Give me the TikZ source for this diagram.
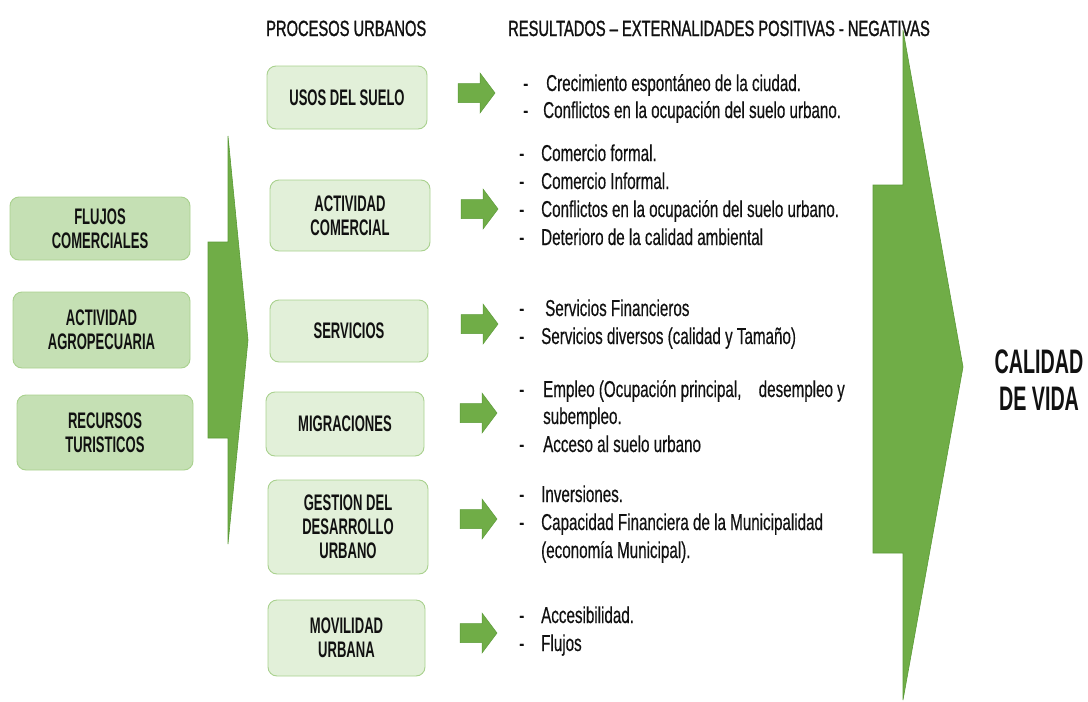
\documentclass[tikz,border=0pt]{standalone}
\usepackage{fontspec}
\setmainfont{Liberation Sans}[FakeStretch=0.66]
\newfontfamily\boxfont{Liberation Sans}[FakeStretch=0.58]
\newfontfamily\headfont{Liberation Sans}[FakeStretch=0.668,FakeBold=1.2]
\newfontfamily\itemfont{Liberation Sans}[FakeStretch=0.66,FakeBold=0.4]
\definecolor{leftfill}{HTML}{C5E0B4}
\definecolor{midfill}{HTML}{E2F0D9}
\definecolor{boxedge}{HTML}{A9D18E}
\definecolor{arrowgreen}{HTML}{70AD47}
\definecolor{arrowedge}{HTML}{5A9A36}
\definecolor{txt}{HTML}{111111}
\newcommand\boxtxt{\boxfont\bfseries\fontsize{22.5}{24}\selectfont}
\newcommand\listtxt{\itemfont\fontsize{23}{28}\selectfont}
\newcommand\headtxt{\headfont\fontsize{22}{26}\selectfont}
\newcommand\bigtxt{\boxfont\bfseries\fontsize{34}{37}\selectfont}
\begin{document}
\begin{tikzpicture}[x=1pt,y=-1pt,
  leftbox/.style={draw=boxedge, fill=leftfill, rounded corners=9pt, line width=0.9pt,
    align=center, inner sep=0pt, font=\boxtxt, text=txt},
  midbox/.style={leftbox, fill=midfill},
  smallarrow/.style={fill=arrowgreen, draw=arrowedge, line width=0.5pt, line join=miter},
  bigarrow/.style={fill=arrowgreen, draw=arrowedge, line width=0.6pt},
  item/.style={anchor=base west, inner sep=0pt, font=\listtxt, text=txt},
  head/.style={anchor=base west, inner sep=0pt, font=\headtxt, text=txt}]
\useasboundingbox (0,0) rectangle (1088,702);

% headers
\node[head] (h1) at (266,36) {PROCESOS URBANOS};
\node[head] (h2) at (508,36) {RESULTADOS – EXTERNALIDADES POSITIVAS - NEGATIVAS};

% left boxes
\node[leftbox, minimum width=180pt, minimum height=63pt] (fc) at (100,228.5) {FLUJOS\\COMERCIALES};
\node[leftbox, minimum width=177pt, minimum height=76pt] (aa) at (101.5,330) {ACTIVIDAD\\AGROPECUARIA};
\node[leftbox, minimum width=176pt, minimum height=75pt] (rt) at (105,432.5) {RECURSOS\\TURISTICOS};

% left big arrow
\coordinate (la1) at (208,242);
\coordinate (la2) at (228,242);
\coordinate (la3) at (228,136);
\coordinate (la4) at (248,340);
\coordinate (la5) at (228,544);
\coordinate (la6) at (228,438);
\coordinate (la7) at (208,438);
\draw[bigarrow] (la1) -- (la2) -- (la3) -- (la4) -- (la5) -- (la6) -- (la7) -- cycle;

% middle boxes
\node[midbox, minimum width=160pt, minimum height=63pt] (us) at (347,97.5) {USOS DEL SUELO};
\node[midbox, minimum width=160pt, minimum height=71pt] (ac) at (350,215.5) {ACTIVIDAD\\COMERCIAL};
\node[midbox, minimum width=158pt, minimum height=62pt] (se) at (349,331) {SERVICIOS};
\node[midbox, minimum width=158pt, minimum height=64pt] (mi) at (345,424) {MIGRACIONES};
\node[midbox, minimum width=160pt, minimum height=94pt] (ge) at (348,527) {GESTION DEL\\DESARROLLO\\URBANO};
\node[midbox, minimum width=157pt, minimum height=76pt] (mo) at (346.5,638) {MOVILIDAD\\URBANA};

% small arrows (west end of shaft, at mid height)
\coordinate (a1) at (458,93);
\coordinate (a2) at (461,209);
\coordinate (a3) at (461,324);
\coordinate (a4) at (460,413);
\coordinate (a5) at (460,519);
\coordinate (a6) at (460,633);
\foreach \a in {a1,a2,a3,a4,a5,a6}{
  \draw[smallarrow] (\a) ++(0,-9.5) -- ++(22,0) -- ++(0,-10.5) -- ++(15,20)
    -- ++(-15,20) -- ++(0,-10.5) -- ++(-22,0) -- cycle;
}

% row 1
\node[item] (d11) at (523,91) {-};
\node[item] (t11) at (546,91) {Crecimiento espontáneo de la ciudad.};
\node[item] (d12) at (523,118) {-};
\node[item] (t12) at (543,118) {Conflictos en la ocupación del suelo urbano.};
% row 2
\node[item] (d21) at (519,161) {-};
\node[item] (t21) at (541,161) {Comercio formal.};
\node[item] (d22) at (519,189) {-};
\node[item] (t22) at (541,189) {Comercio Informal.};
\node[item] (d23) at (519,217) {-};
\node[item] (t23) at (541,217) {Conflictos en la ocupación del suelo urbano.};
\node[item] (d24) at (519,245) {-};
\node[item] (t24) at (541,245) {Deterioro de la calidad ambiental};
% row 3
\node[item] (d31) at (519,316) {-};
\node[item] (t31) at (545,316) {Servicios Financieros};
\node[item] (d32) at (519,344) {-};
\node[item] (t32) at (541,344) {Servicios diversos (calidad y Tamaño)};
% row 4
\node[item] (d41) at (519,397) {-};
\node[item] (t41) at (543,397) {Empleo (Ocupación principal,};
\node[item, anchor=base east] (t41b) at (845,397) {desempleo y};
\node[item] (t42) at (543,424) {subempleo.};
\node[item] (d43) at (519,452) {-};
\node[item] (t43) at (543,452) {Acceso al suelo urbano};
% row 5
\node[item] (d51) at (519,502) {-};
\node[item] (t51) at (541,502) {Inversiones.};
\node[item] (d52) at (519,530) {-};
\node[item] (t52) at (541,530) {Capacidad Financiera de la Municipalidad};
\node[item] (t53) at (541,558) {(economía Municipal).};
% row 6
\node[item] (d61) at (519,623) {-};
\node[item] (t61) at (541,623) {Accesibilidad.};
\node[item] (d62) at (519,651) {-};
\node[item] (t62) at (541,651) {Flujos};

% right big arrow
\coordinate (ra1) at (873,185);
\coordinate (ra2) at (903,185);
\coordinate (ra3) at (903,30);
\coordinate (ra4) at (963,367);
\coordinate (ra5) at (903,700);
\coordinate (ra6) at (903,553);
\coordinate (ra7) at (873,553);
\draw[bigarrow] (ra1) -- (ra2) -- (ra3) -- (ra4) -- (ra5) -- (ra6) -- (ra7) -- cycle;

\node[align=center, inner sep=0pt, font=\bigtxt, text=txt] (cv) at (1039,380) {CALIDAD\\DE VIDA};
\end{tikzpicture}
\end{document}
